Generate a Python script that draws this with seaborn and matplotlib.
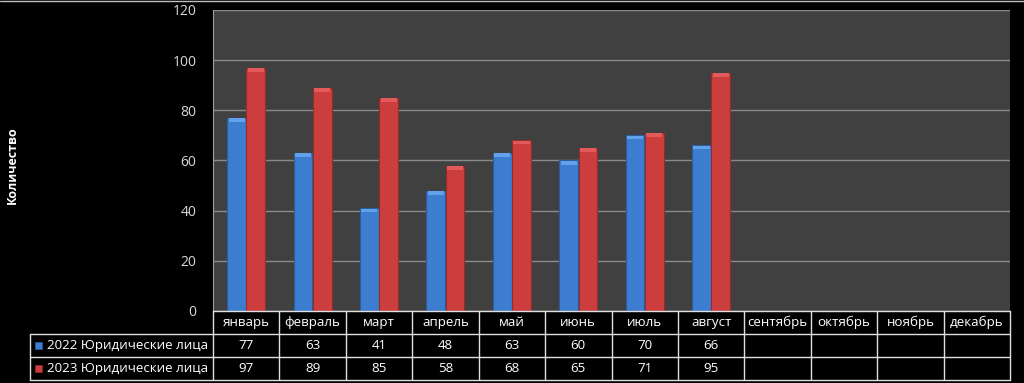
import pandas as pd
import matplotlib.pyplot as plt
import seaborn as sns

# --- data ---
months = ['январь', 'февраль', 'март', 'апрель', 'май', 'июнь', 'июль',
          'август', 'сентябрь', 'октябрь', 'ноябрь', 'декабрь']
series_names = ['2022 Юридические лица', '2023 Юридические лица']
values_2022 = [77, 63, 41, 48, 63, 60, 70, 66, None, None, None, None]
values_2023 = [97, 89, 85, 58, 68, 65, 71, 95, None, None, None, None]
y_ticks = [0, 20, 40, 60, 80, 100, 120]

colors = {series_names[0]: '#3C7DD0', series_names[1]: '#CC3D3D'}
edge_colors = ['#2A5C9E', '#952B2B']
cap_colors = ['#62A2EA', '#E25A5A']

rows = []
for name, vals in zip(series_names, [values_2022, values_2023]):
    for m, v in zip(months, vals):
        rows.append({'month': m, 'series': name, 'value': v})
df = pd.DataFrame(rows)

sns.set_style('dark')
plt.rcParams['font.family'] = ['Open Sans', 'DejaVu Sans']

fig = plt.figure(figsize=(10.24, 3.83), dpi=100, facecolor='black')
ax = fig.add_axes([213 / 1024, 1 - 311 / 383, 797 / 1024, 301 / 383])
ax.set_facecolor('#404040')

sns.barplot(data=df, x='month', y='value', hue='series', order=months,
            hue_order=series_names, palette=colors, width=0.58, gap=0.03,
            ax=ax, legend=False, linewidth=0.8, saturation=1)
for cont, ec, cc in zip(ax.containers, edge_colors, cap_colors):
    for bar in cont:
        bar.set_edgecolor(ec)
        h = bar.get_height()
        if h and h == h:
            # lighter bevel at the top of each bar
            ax.add_patch(plt.Rectangle((bar.get_x() + 0.02, h - 1.6), bar.get_width() - 0.04, 1.4,
                                       facecolor=cc, edgecolor='none', zorder=bar.get_zorder() + 0.1))

ax.set_ylim(0, 120)
ax.set_xlim(-0.5, len(months) - 0.5)
ax.set_yticks(y_ticks)
ax.yaxis.grid(True, color='#8a8a8a', linewidth=1)
ax.xaxis.grid(False)
ax.set_axisbelow(True)
ax.tick_params(axis='y', colors='#d9d9d9', labelsize=10, length=0, pad=12)
ax.set_xticks([])
ax.set_xlabel('')
ax.set_ylabel('')
for s in ['top', 'right', 'bottom']:
    ax.spines[s].set_visible(False)
ax.spines['left'].set_color('#a0a0a0')

fig.text(12 / 1024, 1 - 165 / 383, 'Количество', rotation=90, color='white',
         fontsize=9, fontweight='bold', ha='center', va='center')

# --- data table below the plot (figure pixel coords) ---
def fx(px):
    return px / 1024

def fy(py):
    return 1 - py / 383

x0, x1, lab_x0 = 213, 1010, 30
row_y = [311, 334, 357, 380]
cw = (x1 - x0) / len(months)
lc = '#e0e0e0'
fs = 9.6
# horizontal lines
fig.add_artist(plt.Line2D([fx(x0), fx(x1)], [fy(row_y[0])] * 2, color=lc, lw=1))
for y in row_y[1:]:
    fig.add_artist(plt.Line2D([fx(lab_x0), fx(x1)], [fy(y)] * 2, color=lc, lw=1))
# vertical lines
for i in range(len(months) + 1):
    xx = x0 + i * cw
    fig.add_artist(plt.Line2D([fx(xx)] * 2, [fy(row_y[0]), fy(row_y[3])], color=lc, lw=1))
fig.add_artist(plt.Line2D([fx(lab_x0)] * 2, [fy(row_y[1]), fy(row_y[3])], color=lc, lw=1))

for i, m in enumerate(months):
    cx = x0 + (i + 0.5) * cw
    fig.text(fx(cx), fy((row_y[0] + row_y[1]) / 2), m, color='white',
             fontsize=fs, ha='center', va='center')
    for r, vals in enumerate([values_2022, values_2023]):
        if vals[i] is not None:
            fig.text(fx(cx), fy((row_y[r + 1] + row_y[r + 2]) / 2), str(vals[i]),
                     color='white', fontsize=fs, ha='center', va='center')

for r, name in enumerate(series_names):
    yc = (row_y[r + 1] + row_y[r + 2]) / 2
    fig.add_artist(plt.Rectangle((fx(35), fy(yc + 3.5)), fx(7), 7 / 383,
                                 facecolor=colors[name], edgecolor=edge_colors[r], lw=0.5))
    fig.text(fx(47), fy(yc), name, color='white', fontsize=fs, ha='left', va='center')

# thin frame line at the top
fig.add_artist(plt.Line2D([0, 1], [fy(0.5)] * 2, color='#bfbfbf', lw=1))

fig.savefig('out.png', dpi=100, facecolor='black')
